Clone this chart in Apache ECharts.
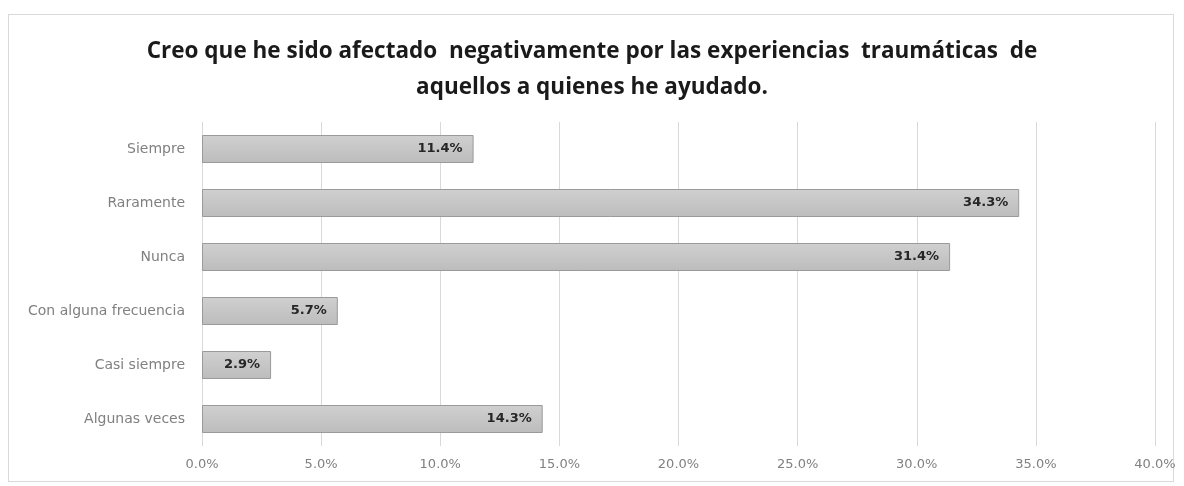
<!DOCTYPE html>
<html>
<head>
<meta charset="utf-8">
<script src="https://cdn.jsdelivr.net/npm/echarts@6/dist/echarts.min.js"></script>
<style>
  html, body { margin: 0; padding: 0; background: #ffffff; }
  #frame { position: absolute; left: 8px; top: 14px; width: 1166px; height: 468px; border: 1px solid #d9d9d9; box-sizing: border-box; }
  #chart { position: absolute; left: 0; top: 0; width: 1184px; height: 486px; }
</style>
</head>
<body>
<div id="frame"></div>
<div id="chart"></div>
<script>
// Response categories, listed top to bottom
const categories = ['Siempre', 'Raramente', 'Nunca', 'Con alguna frecuencia', 'Casi siempre', 'Algunas veces'];
// Share of respondents (%)
const percentages = [11.4, 34.3, 31.4, 5.7, 2.9, 14.3];
// Value axis range
const axisMin = 0;
const axisMax = 40;
const axisStep = 5;

const chart = echarts.init(document.getElementById('chart'), null, { renderer: 'canvas' });

const titleFont = '"Open Sans", "DejaVu Sans", sans-serif';
const font = '"DejaVu Sans", sans-serif';

chart.setOption({
  backgroundColor: 'transparent',
  animation: false,
  title: {
    text: 'Creo que he sido afectado  negativamente por las experiencias  traumáticas  de\naquellos a quienes he ayudado.',
    left: 587,
    top: 29,
    textAlign: 'center',
    textStyle: {
      fontFamily: titleFont,
      fontSize: 22.5,
      fontWeight: 'bold',
      color: '#1a1a1a',
      lineHeight: 36,
      align: 'center'
    }
  },
  grid: { left: 202, right: 29, top: 122, bottom: 40, containLabel: false },
  xAxis: {
    type: 'value',
    min: axisMin,
    max: axisMax,
    interval: axisStep,
    axisLine: { show: false },
    axisTick: { show: false },
    axisLabel: {
      formatter: v => v.toFixed(1) + '%',
      color: '#808080',
      fontFamily: font,
      fontSize: 13,
      margin: 12
    },
    splitLine: { show: true, lineStyle: { color: '#d9d9d9', width: 1 } }
  },
  yAxis: {
    type: 'category',
    data: categories,
    inverse: true,
    axisLine: { show: false },
    axisTick: { show: false },
    axisLabel: {
      color: '#808080',
      fontFamily: font,
      fontSize: 14,
      margin: 17
    }
  },
  series: [{
    type: 'bar',
    data: percentages,
    barWidth: 28,
    itemStyle: {
      color: new echarts.graphic.LinearGradient(0, 0, 0, 1, [
        { offset: 0, color: '#d0d0d0' },
        { offset: 0.5, color: '#c6c6c6' },
        { offset: 1, color: '#bcbcbc' }
      ]),
      borderColor: '#9a9a9a',
      borderWidth: 1
    },
    label: {
      show: true,
      position: 'insideRight',
      distance: 11,
      formatter: p => p.value.toFixed(1) + '%',
      fontFamily: font,
      fontSize: 13,
      fontWeight: 'bold',
      color: '#262626'
    }
  }]
});
</script>
</body>
</html>
